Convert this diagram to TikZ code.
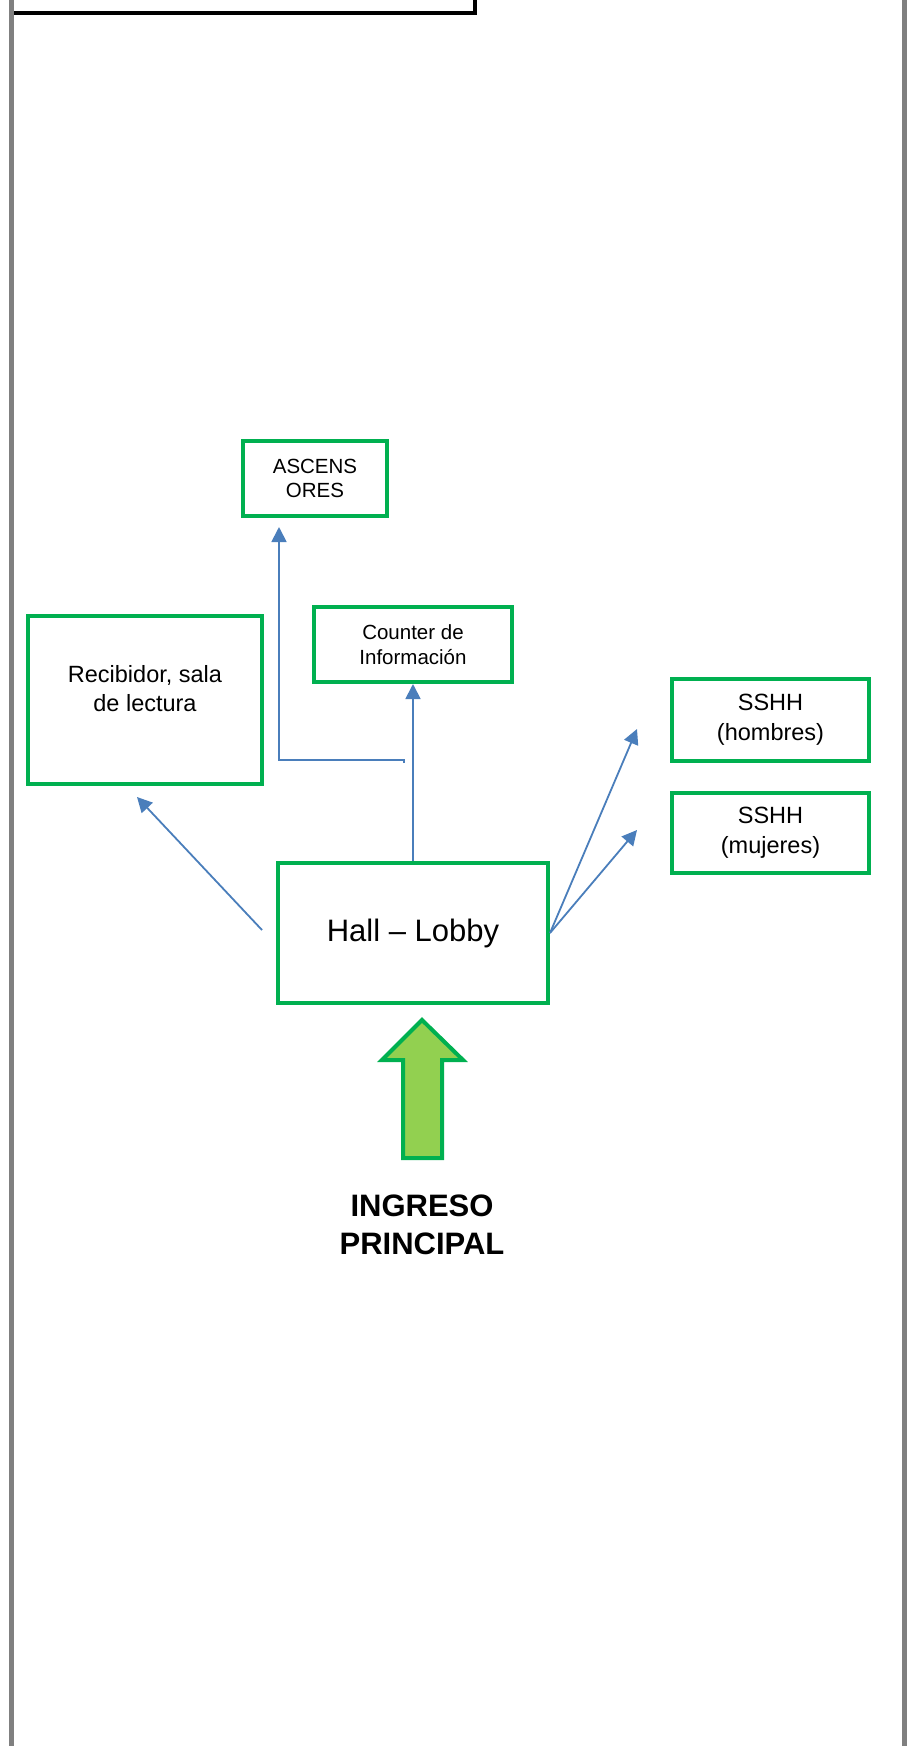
\documentclass[tikz,border=0pt]{standalone}
\usepackage{fontspec}
\setmainfont{Liberation Sans}
\usetikzlibrary{arrows.meta}
\definecolor{boxgreen}{HTML}{00B050}
\definecolor{fillgreen}{HTML}{92D050}
\definecolor{linkblue}{HTML}{4A7EBB}
\definecolor{sidegray}{HTML}{808080}
\begin{document}
\begin{tikzpicture}[x=1pt,y=-1pt,
  roombox/.style={draw=boxgreen, line width=4pt, rectangle, inner sep=0pt, align=center},
  plain/.style={inner sep=0pt, align=center},
  link/.style={draw=linkblue, line width=1.8pt, -{Triangle[length=15pt,width=15pt]}},
  sideline/.style={draw=sidegray, line width=5.5pt},
  entry/.style={draw=boxgreen, fill=fillgreen, line width=4pt}]
\useasboundingbox (0,0) rectangle (913,1746);
% page frame
\draw[sideline] (11.5,0) -- (11.5,1746);
\draw[sideline] (904.5,0) -- (904.5,1746);
\draw[black, line width=4pt] (14,13) -- (475,13) -- (475,-5);
% boxes
\node[roombox, minimum width=144pt, minimum height=75pt, font=\fontsize{20.5}{24.5}\selectfont] (asc) at (315,478.5) {ASCENS\\ORES};
\node[roombox, minimum width=198pt, minimum height=75pt, font=\fontsize{20.5}{25}\selectfont] (cnt) at (413,644.5) {Counter de\\Información};
\node[roombox, minimum width=234pt, minimum height=168pt] (rec) at (145,700) {};
\node[plain, font=\fontsize{23.5}{29}\selectfont] (rectxt) at (145,689) {Recibidor, sala\\de lectura};
\node[roombox, minimum width=270pt, minimum height=140pt, font=\fontsize{31}{36}\selectfont] (hall) at (413,933) {Hall -- Lobby};
\node[roombox, minimum width=197pt, minimum height=82pt, font=\fontsize{23.5}{30}\selectfont] (ssh) at (770.5,720) {SSHH\\(hombres)};
\node[roombox, minimum width=197pt, minimum height=80pt, font=\fontsize{23.5}{30}\selectfont] (ssm) at (770.5,833) {SSHH\\(mujeres)};
% connector ends
\coordinate (ascstart) at (404,763);
\coordinate (ascbend) at (279,760);
\coordinate (asctip) at (279,527);
\coordinate (recstart) at (262,930);
\coordinate (rectip) at (137,797);
\coordinate (sshtip) at (637,729);
\coordinate (ssmtip) at (637,830);
% connectors
\draw[link] (ascstart) -- (ascstart |- ascbend) -- (ascbend) -- (asctip);
\draw[link] (hall.north) -- (cnt.south);
\draw[link] (recstart) -- (rectip);
\draw[link] (hall.east) -- (sshtip);
\draw[link] (hall.east) -- (ssmtip);
% entrance arrow
\draw[entry] (422,1020) -- (463,1060) -- (442,1060) -- (442,1158) -- (403,1158) -- (403,1060) -- (382,1060) -- cycle;
\node[plain, font=\fontsize{31}{38}\selectfont\bfseries] (ingreso) at (422,1225) {INGRESO\\PRINCIPAL};
\end{tikzpicture}
\end{document}
